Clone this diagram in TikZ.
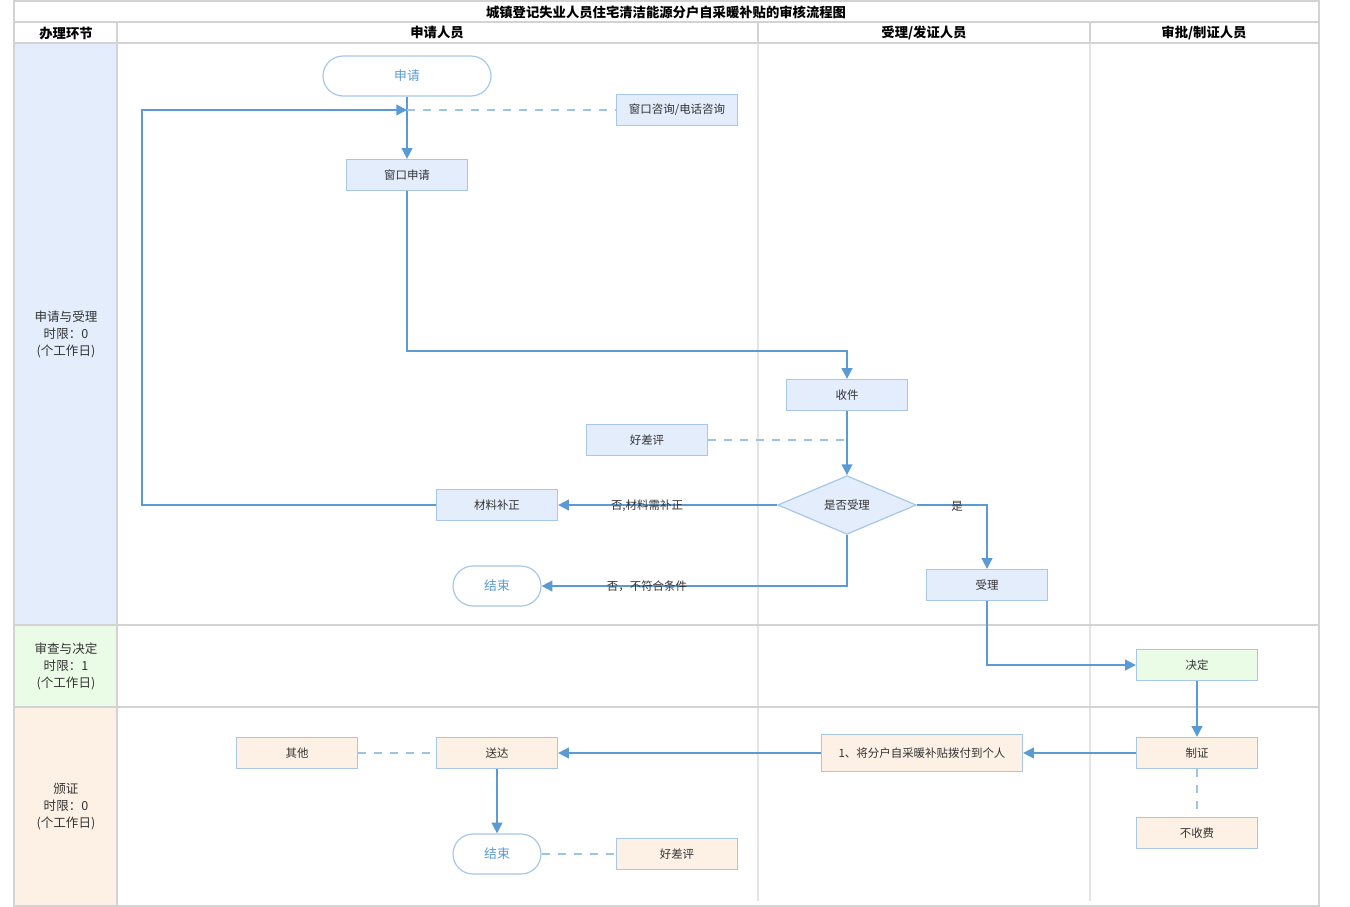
\documentclass[tikz,border=0pt]{standalone}
\usepackage{fontspec}
\setmainfont{Noto Sans CJK SC}
\usetikzlibrary{shapes.geometric,arrows.meta}
\definecolor{flowc}{HTML}{5B9BD5}
\definecolor{bord}{HTML}{A7C7EA}
\definecolor{dashc}{HTML}{9DC3E6}
\definecolor{fblue}{HTML}{E3EDFC}
\definecolor{fgreen}{HTML}{EAFCE6}
\definecolor{forange}{HTML}{FDF1E5}
\definecolor{gridc}{HTML}{D3D3D3}
\definecolor{vgridc}{HTML}{E3E3E3}
\definecolor{txt}{HTML}{333333}
\begin{document}
\begin{tikzpicture}[x=0.75pt,y=-0.75pt,
  gridline/.style={draw=gridc,line width=1.5pt},
  vline/.style={draw=vgridc,line width=1.2pt},
  box/.style={draw=bord,line width=0.9pt,minimum width=90.75pt,minimum height=23.25pt,inner sep=0pt,font=\fontsize{8.6}{10}\selectfont,text=txt},
  bbox/.style={box,fill=fblue},
  gbox/.style={box,fill=fgreen},
  obox/.style={box,fill=forange},
  term/.style={draw=bord,line width=0.9pt,fill=white,rounded corners=15pt,minimum width=66pt,minimum height=30pt,inner sep=0pt,text=flowc,font=\fontsize{9.6}{11}\selectfont},
  dec/.style={diamond,draw=bord,line width=0.9pt,fill=fblue,minimum width=104pt,minimum height=44pt,inner sep=0pt,font=\fontsize{8.6}{10}\selectfont,text=txt},
  flow/.style={draw=flowc,line width=1.2pt,-{Triangle[length=8pt,width=8pt]}},
  flowplain/.style={draw=flowc,line width=1.2pt},
  dashl/.style={draw=dashc,line width=1.2pt,dash pattern=on 6pt off 6pt},
  lbl/.style={font=\fontsize{8.6}{10}\selectfont,text=txt,inner sep=0pt},
  lanelbl/.style={font=\fontsize{9.4}{12.75}\selectfont,text=txt,align=center},
  head/.style={font=\bfseries\fontsize{10}{12}\selectfont,text=black}
]
\useasboundingbox (0,0) rectangle (1350,907);
% lane label fills
\fill[fblue] (14,43) rectangle (117,625);
\fill[fgreen] (14,625) rectangle (117,707);
\fill[forange] (14,707) rectangle (117,905);
% vertical body lines
\draw[vline] (758,43) -- (758,901);
\draw[vline] (1090,43) -- (1090,901);
% grid
\draw[gridline] (14,1) rectangle (1319,906);
\draw[gridline] (14,22) -- (1319,22);
\draw[gridline] (14,43) -- (1319,43);
\draw[gridline] (14,625) -- (1319,625);
\draw[gridline] (14,707) -- (1319,707);
\draw[gridline] (117,22) -- (117,906);
\draw[gridline] (758,22) -- (758,43);
\draw[gridline] (1090,22) -- (1090,43);
% headers
\node[head] (title) at (666,12) {城镇登记失业人员住宅清洁能源分户自采暖补贴的审核流程图};
\node[head] (h0) at (66,33) {办理环节};
\node[head] (h1) at (437,33) {申请人员};
\node[head] (h2) at (924,33) {受理/发证人员};
\node[head] (h3) at (1204,33) {审批/制证人员};
% lane labels
\node[lanelbl] (l1) at (66,334) {申请与受理\\时限：0\\(个工作日)};
\node[lanelbl] (l2) at (66,666) {审查与决定\\时限：1\\(个工作日)};
\node[lanelbl] (l3) at (66,807) {颁证\\时限：0\\(个工作日)};
% nodes
\node[term,minimum width=126pt] (apply) at (407,76) {申请};
\node[bbox] (consult) at (677,110) {窗口咨询/电话咨询};
\coordinate (j) at (407,110);
\node[bbox] (wapply) at (407,175) {窗口申请};
\node[bbox] (recv) at (847,395) {收件};
\node[bbox] (eval1) at (647,440) {好差评};
\node[dec] (decide1) at (847,505) {是否受理};
\node[bbox] (fix) at (497,505) {材料补正};
\node[bbox] (acc) at (987,585) {受理};
\node[term] (end1) at (497,586) {结束};
\node[gbox] (decide) at (1197,665) {决定};
\node[obox] (make) at (1197,753) {制证};
\node[obox] (nofee) at (1197,833) {不收费};
\node[obox,minimum width=150.75pt,minimum height=27.75pt] (pay) at (922,753) {1、将分户自采暖补贴拨付到个人};
\node[obox] (deliver) at (497,753) {送达};
\node[obox] (other) at (297,753) {其他};
\node[term] (end2) at (497,854) {结束};
\node[obox] (eval2) at (677,854) {好差评};
\coordinate (loopc) at (142,505);
% connectors
\draw[flowplain] (apply.south) -- (j);
\draw[flow] (j) -- (wapply.north);
\draw[dashl] (j) -- (consult.west);
\draw[flow] (wapply.south) -- ++(0,160) -| (recv.north);
\draw[dashl] (eval1.east) -- (eval1.east -| recv.south);
\draw[flow] (recv.south) -- (decide1.north);
\draw[flow] (decide1.west) -- (fix.east);
\draw[flow] (fix.west) -- (loopc) |- (j);
\draw[flow] (decide1.east) -| (acc.north);
\draw[flow] (decide1.south) |- (end1.east);
\draw[flow] (acc.south) |- (decide.west);
\draw[flow] (decide.south) -- (make.north);
\draw[dashl] (make.south) -- (nofee.north);
\draw[flow] (make.west) -- (pay.east);
\draw[flow] (pay.west) -- (deliver.east);
\draw[dashl] (other.east) -- (deliver.west);
\draw[flow] (deliver.south) -- (end2.north);
\draw[dashl] (end2.east) -- (eval2.west);
% edge labels
\node[lbl] (t1) at (647,506) {否,材料需补正};
\node[lbl] (t2) at (957,506) {是};
\node[lbl] (t3) at (647,586) {否，不符合条件};
\end{tikzpicture}
\end{document}
